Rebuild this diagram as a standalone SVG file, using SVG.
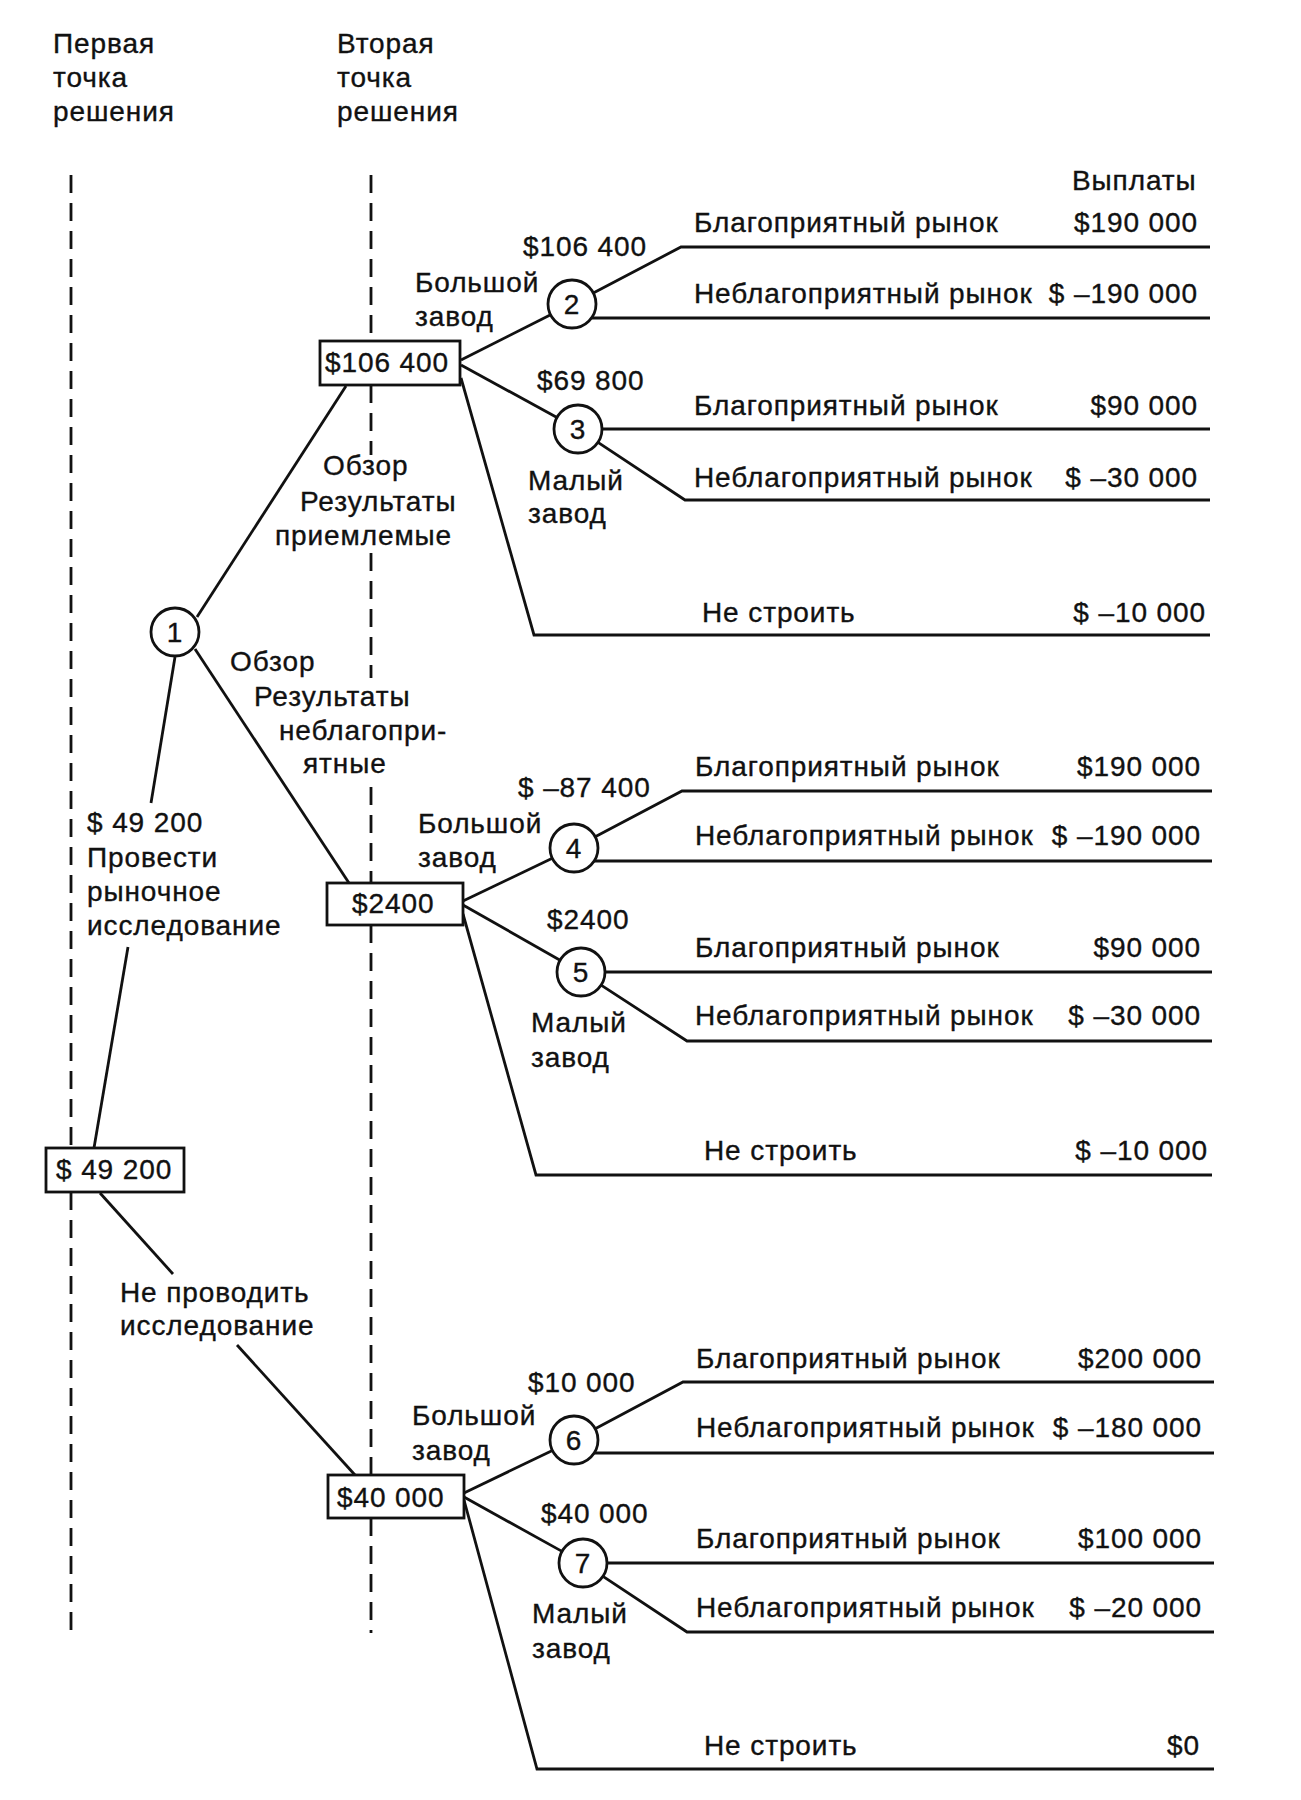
<svg xmlns="http://www.w3.org/2000/svg" width="1301" height="1800" viewBox="0 0 1301 1800">
<style>
text{font-family:"Liberation Sans",Arial,sans-serif;font-size:28px;letter-spacing:0.9px;fill:#111;stroke:#111;stroke-width:0.35px}
.e{text-anchor:end}
.m{text-anchor:middle}
.ln{fill:none;stroke:#111;stroke-width:2.8;stroke-linejoin:miter}
.dash{fill:none;stroke:#111;stroke-width:2.8;stroke-dasharray:18 10}
.box{fill:#fff;stroke:#111;stroke-width:2.8}
.chance{fill:#fff;stroke:#111;stroke-width:2.8}
</style>
<rect width="1301" height="1800" fill="#fff"/>

<g id="headers">
<text x="53" y="53">Первая</text>
<text x="53" y="87">точка</text>
<text x="53" y="121">решения</text>
<text x="337" y="53">Вторая</text>
<text x="337" y="87">точка</text>
<text x="337" y="121">решения</text>
<text x="1072" y="190">Выплаты</text>
</g>

<g id="guides">
<line class="dash" x1="71" y1="175" x2="71" y2="1148"/>
<line class="dash" x1="71" y1="1192" x2="71" y2="1633"/>
<line class="dash" x1="371" y1="175" x2="371" y2="341"/>
<line class="dash" x1="371" y1="385" x2="371" y2="455"/>
<line class="dash" x1="371" y1="553" x2="371" y2="678"/>
<line class="dash" x1="371" y1="787" x2="371" y2="883"/>
<line class="dash" x1="371" y1="925" x2="371" y2="1475"/>
<line class="dash" x1="371" y1="1518" x2="371" y2="1633"/>
</g>

<g id="connectors">
<line class="ln" x1="197" y1="617" x2="346" y2="386"/>
<line class="ln" x1="195" y1="649" x2="349" y2="883"/>
<line class="ln" x1="175" y1="657" x2="151" y2="803"/>
<line class="ln" x1="128" y1="947" x2="94" y2="1148"/>
<line class="ln" x1="100" y1="1193" x2="173" y2="1274"/>
<line class="ln" x1="237" y1="1345" x2="355" y2="1475"/>

<line class="ln" x1="461" y1="360" x2="550.6" y2="314.8"/>
<polyline class="ln" points="593.3,292.9 681,247 1210,247"/>
<line class="ln" x1="591.5" y1="318" x2="1210" y2="318"/>
<line class="ln" x1="461" y1="365" x2="557" y2="417.5"/>
<line class="ln" x1="602" y1="429" x2="1210" y2="429"/>
<polyline class="ln" points="598,442.3 685,500 1210,500"/>
<polyline class="ln" points="461,378 534,635 1210,635"/>

<line class="ln" x1="463" y1="901" x2="552.3" y2="858.3"/>
<polyline class="ln" points="595.2,836.8 682,791 1212,791"/>
<line class="ln" x1="594.2" y1="861" x2="1212" y2="861"/>
<line class="ln" x1="463" y1="905" x2="560.1" y2="960.2"/>
<line class="ln" x1="605" y1="972" x2="1212" y2="972"/>
<polyline class="ln" points="601.1,985.1 687,1041 1212,1041"/>
<polyline class="ln" points="463,914 536,1175 1212,1175"/>

<line class="ln" x1="464" y1="1493" x2="552.4" y2="1450.4"/>
<polyline class="ln" points="595.2,1428.7 683,1382 1214,1382"/>
<line class="ln" x1="594.2" y1="1453" x2="1214" y2="1453"/>
<line class="ln" x1="464" y1="1497" x2="562" y2="1551.4"/>
<line class="ln" x1="607" y1="1563" x2="1214" y2="1563"/>
<polyline class="ln" points="603,1576.3 687,1632 1214,1632"/>
<polyline class="ln" points="464,1500 537,1769 1214,1769"/>
</g>

<g id="decision-root">
<rect class="box" x="46" y="1148" width="138" height="44"/>
<text x="56" y="1179">$ 49 200</text>
</g>
<g id="decision-A">
<rect class="box" x="320" y="341" width="140" height="44"/>
<text x="325" y="372">$106 400</text>
</g>
<g id="decision-B">
<rect class="box" x="327" y="883" width="136" height="42"/>
<text x="352" y="913">$2400</text>
</g>
<g id="decision-C">
<rect class="box" x="328" y="1475" width="136" height="43"/>
<text x="337" y="1507">$40 000</text>
</g>

<g id="node1"><circle class="chance" cx="175" cy="632" r="24"/><text class="m" x="175" y="642">1</text></g>
<g id="node2"><circle class="chance" cx="572" cy="304" r="24"/><text class="m" x="572" y="314">2</text></g>
<g id="node3"><circle class="chance" cx="578" cy="429" r="24"/><text class="m" x="578" y="439">3</text></g>
<g id="node4"><circle class="chance" cx="574" cy="848" r="24"/><text class="m" x="574" y="858">4</text></g>
<g id="node5"><circle class="chance" cx="581" cy="972" r="24"/><text class="m" x="581" y="982">5</text></g>
<g id="node6"><circle class="chance" cx="574" cy="1440" r="24"/><text class="m" x="574" y="1450">6</text></g>
<g id="node7"><circle class="chance" cx="583" cy="1563" r="24"/><text class="m" x="583" y="1573">7</text></g>

<g id="branch-labels">
<text x="87" y="832">$ 49 200</text>
<text x="87" y="867">Провести</text>
<text x="87" y="901">рыночное</text>
<text x="87" y="935">исследование</text>
<text x="120" y="1302">Не проводить</text>
<text x="120" y="1335">исследование</text>

<text x="323" y="475">Обзор</text>
<text x="300" y="511">Результаты</text>
<text x="275" y="545">приемлемые</text>

<text x="230" y="671">Обзор</text>
<text x="254" y="706">Результаты</text>
<text x="279" y="740">неблагопри-</text>
<text x="303" y="773">ятные</text>

<text x="523" y="256">$106 400</text>
<text x="415" y="292">Большой</text>
<text x="415" y="326">завод</text>
<text x="537" y="390">$69 800</text>
<text x="528" y="490">Малый</text>
<text x="528" y="523">завод</text>

<text x="518" y="797">$ –87 400</text>
<text x="418" y="833">Большой</text>
<text x="418" y="867">завод</text>
<text x="547" y="929">$2400</text>
<text x="531" y="1032">Малый</text>
<text x="531" y="1067">завод</text>

<text x="528" y="1392">$10 000</text>
<text x="412" y="1425">Большой</text>
<text x="412" y="1460">завод</text>
<text x="541" y="1523">$40 000</text>
<text x="532" y="1623">Малый</text>
<text x="532" y="1658">завод</text>
</g>

<g id="outcomes">
<text x="694" y="232">Благоприятный рынок</text><text class="e" x="1198" y="232">$190 000</text>
<text x="694" y="303">Неблагоприятный рынок</text><text class="e" x="1198" y="303">$ –190 000</text>
<text x="694" y="415">Благоприятный рынок</text><text class="e" x="1198" y="415">$90 000</text>
<text x="694" y="487">Неблагоприятный рынок</text><text class="e" x="1198" y="487">$ –30 000</text>
<text x="702" y="622">Не строить</text><text class="e" x="1206" y="622">$ –10 000</text>

<text x="695" y="776">Благоприятный рынок</text><text class="e" x="1201" y="776">$190 000</text>
<text x="695" y="845">Неблагоприятный рынок</text><text class="e" x="1201" y="845">$ –190 000</text>
<text x="695" y="957">Благоприятный рынок</text><text class="e" x="1201" y="957">$90 000</text>
<text x="695" y="1025">Неблагоприятный рынок</text><text class="e" x="1201" y="1025">$ –30 000</text>
<text x="704" y="1160">Не строить</text><text class="e" x="1208" y="1160">$ –10 000</text>

<text x="696" y="1368">Благоприятный рынок</text><text class="e" x="1202" y="1368">$200 000</text>
<text x="696" y="1437">Неблагоприятный рынок</text><text class="e" x="1202" y="1437">$ –180 000</text>
<text x="696" y="1548">Благоприятный рынок</text><text class="e" x="1202" y="1548">$100 000</text>
<text x="696" y="1617">Неблагоприятный рынок</text><text class="e" x="1202" y="1617">$ –20 000</text>
<text x="704" y="1755">Не строить</text><text class="e" x="1200" y="1755">$0</text>
</g>
</svg>
